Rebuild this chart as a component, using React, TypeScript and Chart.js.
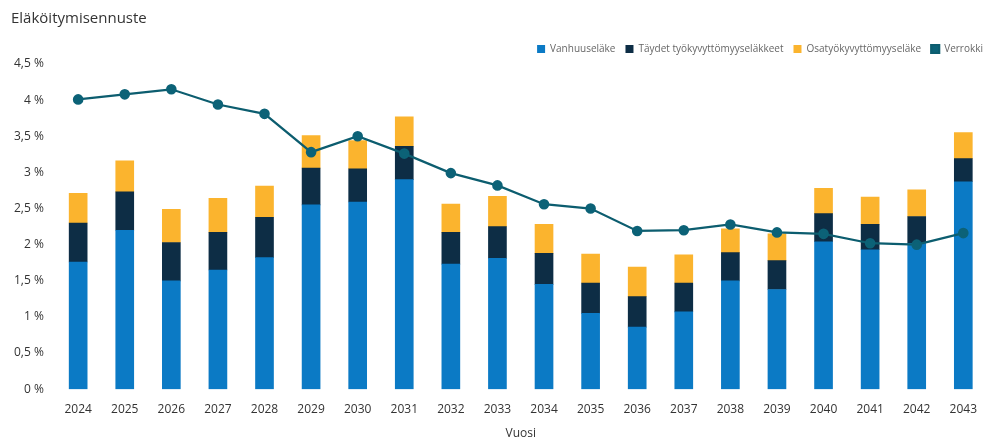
import React, { useEffect, useRef } from "react";
import { Chart, registerables } from "chart.js";

Chart.register(...registerables);

const years = ["2024","2025","2026","2027","2028","2029","2030","2031","2032","2033","2034","2035","2036","2037","2038","2039","2040","2041","2042","2043"];
const vanhuus = [1.76,2.20,1.50,1.65,1.82,2.55,2.59,2.90,1.73,1.81,1.45,1.05,0.86,1.07,1.50,1.38,2.04,1.93,2.02,2.87];
const taydet = [0.54,0.53,0.53,0.52,0.56,0.51,0.46,0.46,0.44,0.44,0.43,0.42,0.42,0.40,0.39,0.40,0.39,0.35,0.37,0.32];
const osa = [0.41,0.43,0.46,0.47,0.43,0.45,0.39,0.41,0.39,0.42,0.40,0.40,0.41,0.39,0.33,0.37,0.35,0.38,0.37,0.36];
const verrokki = [4.01,4.08,4.15,3.94,3.81,3.28,3.50,3.26,2.99,2.82,2.56,2.50,2.19,2.20,2.28,2.17,2.15,2.02,2.00,2.16];
const yTicks = [0,0.5,1,1.5,2,2.5,3,3.5,4,4.5];

const FONT = "'Open Sans', 'Noto Sans', sans-serif";

export default function App() {
  const ref = useRef<HTMLCanvasElement>(null);
  useEffect(() => {
    if (!ref.current) return;
    const chart = new Chart(ref.current, {
      type: "bar",
      data: {
        labels: years,
        datasets: [
          { label: "Vanhuuseläke", data: vanhuus, backgroundColor: "#0B7AC5", borderWidth: 0, stack: "s", barThickness: 18 } as any,
          { label: "Täydet työkyvyttömyyseläkkeet", data: taydet, backgroundColor: "#0D2D45", stack: "s", barThickness: 18 } as any,
          { label: "Osatyökyvyttömyyseläke", data: osa, backgroundColor: "#FBB42E", stack: "s", barThickness: 18 } as any,
          { type: "line", label: "Verrokki", data: verrokki, borderColor: "#0C5D6F", backgroundColor: "#0C6277", borderWidth: 2.2, pointRadius: 4.2, pointBackgroundColor: "#0C6277", pointBorderColor: "#0C6277", stack: "line", order: -1 } as any,
        ],
      },
      options: {
        animation: false,
        responsive: false,
        maintainAspectRatio: false,
        layout: { padding: { left: 11, right: 0, top: 0, bottom: 0 } },
        plugins: {
          title: {
            display: true,
            text: "Eläköitymisennuste",
            align: "start",
            color: "#333333",
            font: { family: FONT, size: 15, weight: "normal" },
            padding: { top: 10, bottom: 6 },
          },
          legend: {
            display: true,
            position: "top",
            align: "end",
            labels: {
              boxWidth: 8,
              boxHeight: 8,
              padding: 10,
              color: "#666666",
              font: { family: FONT, size: 10 },
              sort: (a: any, b: any) => a.datasetIndex - b.datasetIndex,
            },
          },
          tooltip: { enabled: false },
        },
        scales: {
          x: {
            stacked: true,
            grid: { display: false },
            border: { display: false },
            ticks: { color: "#333333", font: { family: FONT, size: 12 }, padding: 5 },
            title: { display: true, text: "Vuosi", color: "#333333", font: { family: FONT, size: 12 }, padding: { top: 5, bottom: 0 } },
          },
          y: {
            stacked: true,
            min: 0,
            max: 4.5,
            afterBuildTicks: (axis: any) => { axis.ticks = yTicks.map((v) => ({ value: v })); },
            grid: { display: false },
            border: { display: false },
            ticks: {
              color: "#333333",
              font: { family: FONT, size: 12 },
              padding: 3,
              callback: (v: any) => String(v).replace(".", ",") + " %",
            },
          },
        },
      },
    });
    return () => chart.destroy();
  }, []);
  return (
    <div style={{ position: "fixed", left: 0, top: 0, width: 993, height: 441, background: "#fff" }}>
      <canvas ref={ref} width={993} height={441} style={{ width: 993, height: 441 }} />
    </div>
  );
}
